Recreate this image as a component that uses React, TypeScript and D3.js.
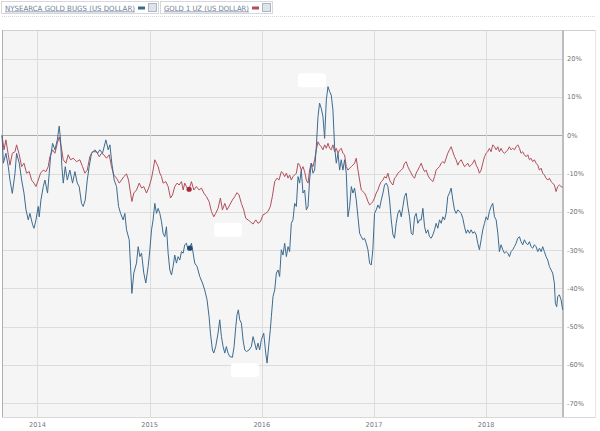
import * as d3 from "d3";

// weekly-ish readings, % change since start (decimal years)
const goldBugsDates = [
  2013.684, 2013.696, 2013.719, 2013.740, 2013.755, 2013.776, 2013.800, 2013.814, 2013.838, 2013.859,
  2013.880, 2013.898, 2013.918, 2013.933, 2013.957, 2013.969, 2013.987, 2014.007, 2014.016, 2014.031,
  2014.052, 2014.067, 2014.090, 2014.105, 2014.117, 2014.135, 2014.156, 2014.177, 2014.194, 2014.206,
  2014.218, 2014.230, 2014.248, 2014.266, 2014.289, 2014.313, 2014.334, 2014.355, 2014.372, 2014.393,
  2014.408, 2014.426, 2014.444, 2014.461, 2014.482, 2014.512, 2014.536, 2014.556, 2014.580, 2014.610,
  2014.631, 2014.646, 2014.663, 2014.684, 2014.705, 2014.723, 2014.741, 2014.764, 2014.779, 2014.794,
  2014.818, 2014.830, 2014.842, 2014.859, 2014.883, 2014.898, 2014.913, 2014.928, 2014.948, 2014.966,
  2014.987, 2015.002, 2015.017, 2015.031, 2015.046, 2015.061, 2015.076, 2015.091, 2015.106, 2015.120,
  2015.135, 2015.150, 2015.165, 2015.180, 2015.195, 2015.209, 2015.224, 2015.239, 2015.254, 2015.269,
  2015.284, 2015.299, 2015.313, 2015.328, 2015.343, 2015.358, 2015.373, 2015.388, 2015.402, 2015.423,
  2015.447, 2015.471, 2015.491, 2015.512, 2015.530, 2015.542, 2015.560, 2015.572, 2015.589, 2015.610,
  2015.625, 2015.640, 2015.655, 2015.670, 2015.684, 2015.699, 2015.714, 2015.738, 2015.753, 2015.768,
  2015.779, 2015.791, 2015.803, 2015.818, 2015.833, 2015.848, 2015.863, 2015.886, 2015.907, 2015.922,
  2015.937, 2015.952, 2015.966, 2015.981, 2015.996, 2016.017, 2016.035, 2016.047, 2016.064, 2016.076,
  2016.085, 2016.100, 2016.115, 2016.130, 2016.145, 2016.159, 2016.174, 2016.189, 2016.204, 2016.219,
  2016.234, 2016.248, 2016.263, 2016.278, 2016.293, 2016.308, 2016.323, 2016.337, 2016.352, 2016.367,
  2016.382, 2016.397, 2016.412, 2016.426, 2016.441, 2016.456, 2016.471, 2016.486, 2016.501, 2016.515,
  2016.530, 2016.545, 2016.560, 2016.575, 2016.590, 2016.605, 2016.619, 2016.634, 2016.649, 2016.664,
  2016.679, 2016.694, 2016.708, 2016.723, 2016.738, 2016.753, 2016.768, 2016.783, 2016.798, 2016.812,
  2016.827, 2016.842, 2016.857, 2016.872, 2016.887, 2016.901, 2016.916, 2016.931, 2016.946, 2016.961,
  2016.976, 2016.990, 2017.005, 2017.020, 2017.035, 2017.050, 2017.065, 2017.080, 2017.094, 2017.109,
  2017.124, 2017.139, 2017.154, 2017.169, 2017.183, 2017.198, 2017.213, 2017.228, 2017.243, 2017.258,
  2017.272, 2017.287, 2017.302, 2017.317, 2017.332, 2017.347, 2017.362, 2017.376, 2017.391, 2017.406,
  2017.421, 2017.436, 2017.451, 2017.465, 2017.480, 2017.495, 2017.510, 2017.525, 2017.540, 2017.554,
  2017.569, 2017.584, 2017.599, 2017.614, 2017.629, 2017.643, 2017.658, 2017.673, 2017.688, 2017.703,
  2017.718, 2017.732, 2017.747, 2017.762, 2017.777, 2017.792, 2017.807, 2017.822, 2017.836, 2017.851,
  2017.866, 2017.881, 2017.896, 2017.911, 2017.925, 2017.940, 2017.955, 2017.970, 2017.985, 2018.000,
  2018.014, 2018.029, 2018.044, 2018.059, 2018.074, 2018.089, 2018.104, 2018.118, 2018.133, 2018.148,
  2018.163, 2018.178, 2018.193, 2018.207, 2018.222, 2018.237, 2018.252, 2018.267, 2018.282, 2018.297,
  2018.311, 2018.326, 2018.341, 2018.356, 2018.371, 2018.386, 2018.400, 2018.415, 2018.430, 2018.445,
  2018.460, 2018.475, 2018.490, 2018.504, 2018.519, 2018.534, 2018.549, 2018.564, 2018.579, 2018.593,
  2018.608, 2018.617, 2018.629, 2018.638, 2018.653, 2018.668, 2018.682,
];
const goldBugsChange = [
  0, -7.3, -4.7, -8.2, -11.7, -15.2, -9.9, -4.7, -7.3, -11.7,
  -15.1, -19.5, -22.1, -20.4, -23.4, -24.3, -22.1, -18.6, -21.3, -16.9,
  -13.4, -11.7, -15.1, -9.9, -5.6, -2.1, -3.8, -1.2, 2.4, -1.2,
  -8.2, -12.5, -8.2, -11.7, -9.1, -12.5, -9.5, -12.5, -13.4, -17.8,
  -18.6, -16.9, -11.7, -8.2, -4.7, -3.8, -4.7, -3.8, -4.7, -1.2,
  -3.8, -2.5, -7.3, -11.7, -13.4, -18.6, -20.4, -22.1, -20.4, -24.7,
  -27.3, -34.3, -41.3, -36.0, -33.4, -29.1, -31.7, -30.8, -36.0, -38.6,
  -34.3, -29.9, -24.7, -22.1, -17.8, -20.4, -19.1, -20.4, -22.6, -25.6,
  -26.5, -23.9, -30.8, -35.2, -36.5, -34.3, -31.3, -33.4, -31.7, -32.6,
  -30.4, -30.8, -28.6, -28.2, -29.9, -29.5, -28.2, -30.8, -33.4, -34.3,
  -36.9, -38.6, -40.4, -43.0, -47.4, -51.7, -56.1, -56.9, -55.2, -51.7,
  -48.2, -52.6, -55.2, -56.9, -55.2, -56.9, -57.8, -58.0, -55.2, -50.0,
  -46.9, -45.6, -48.2, -49.1, -53.5, -56.1, -56.5, -56.1, -55.2, -52.6,
  -54.3, -56.1, -54.3, -56.1, -53.4, -51.7, -56.9, -59.5, -54.3, -50.8,
  -47.4, -42.1, -40.4, -36.0, -35.2, -36.9, -29.9, -31.3, -28.2, -31.7,
  -29.1, -30.4, -23.0, -22.1, -17.8, -18.6, -10.8, -12.5, -9.1, -15.1,
  -14.3, -19.5, -18.6, -11.7, -7.3, -9.9, -9.1, -3.0, 4.9, 8.4,
  7.0, 4.9, -0.8, 9.2, 12.7, 11.4, 10.5, 6.6, -3.0, -7.3,
  -4.7, -9.1, -6.4, -9.1, -6.4, -9.9, -21.3, -18.6, -13.4, -15.1,
  -13.8, -16.9, -21.3, -25.6, -26.5, -27.3, -26.9, -28.2, -29.9, -33.4,
  -33.9, -29.9, -20.4, -19.5, -18.2, -19.1, -16.9, -15.1, -13.0, -12.5,
  -13.4, -16.9, -22.1, -26.0, -26.9, -23.0, -20.4, -19.5, -21.3, -18.6,
  -16.0, -15.1, -18.6, -21.3, -25.6, -26.0, -21.3, -20.4, -23.0, -22.1,
  -22.1, -19.1, -23.9, -25.6, -24.7, -26.5, -26.9, -26.0, -24.7, -23.0,
  -24.3, -22.1, -23.0, -21.3, -22.1, -20.4, -16.0, -15.1, -13.8, -16.9,
  -19.5, -20.4, -19.5, -19.9, -20.4, -21.7, -23.9, -25.6, -24.7, -25.6,
  -24.7, -25.6, -25.2, -26.0, -28.2, -29.9, -27.3, -24.7, -23.0, -21.3,
  -22.1, -19.9, -18.6, -17.8, -21.3, -22.1, -25.6, -30.4, -28.6, -29.9,
  -30.8, -30.4, -30.8, -31.7, -30.4, -29.9, -29.1, -28.2, -26.9, -26.5,
  -27.8, -28.6, -27.3, -28.2, -28.6, -27.8, -29.1, -29.5, -28.6, -29.1,
  -30.4, -29.5, -30.4, -29.1, -30.4, -31.7, -32.6, -34.3, -35.2, -36.0,
  -38.6, -43.9, -44.8, -42.1, -41.7, -43.0, -45.6,
];

const goldOzDates = [
  2013.684, 2013.702, 2013.719, 2013.740, 2013.755, 2013.776, 2013.800, 2013.814, 2013.838, 2013.859,
  2013.880, 2013.903, 2013.927, 2013.948, 2013.969, 2013.987, 2014.007, 2014.028, 2014.052, 2014.076,
  2014.096, 2014.111, 2014.135, 2014.156, 2014.177, 2014.194, 2014.212, 2014.230, 2014.254, 2014.274,
  2014.295, 2014.319, 2014.349, 2014.378, 2014.402, 2014.423, 2014.444, 2014.467, 2014.491, 2014.527,
  2014.551, 2014.571, 2014.592, 2014.616, 2014.640, 2014.660, 2014.681, 2014.705, 2014.729, 2014.749,
  2014.770, 2014.794, 2014.812, 2014.830, 2014.842, 2014.859, 2014.883, 2014.907, 2014.928, 2014.948,
  2014.972, 2014.996, 2015.017, 2015.031, 2015.046, 2015.061, 2015.076, 2015.091, 2015.106, 2015.120,
  2015.144, 2015.165, 2015.186, 2015.204, 2015.224, 2015.245, 2015.263, 2015.284, 2015.299, 2015.313,
  2015.334, 2015.352, 2015.373, 2015.394, 2015.417, 2015.441, 2015.462, 2015.483, 2015.506, 2015.530,
  2015.551, 2015.572, 2015.589, 2015.610, 2015.631, 2015.649, 2015.670, 2015.690, 2015.714, 2015.738,
  2015.759, 2015.779, 2015.797, 2015.818, 2015.839, 2015.857, 2015.878, 2015.898, 2015.922, 2015.946,
  2015.966, 2015.987, 2016.011, 2016.035, 2016.055, 2016.076, 2016.094, 2016.115, 2016.136, 2016.153,
  2016.174, 2016.189, 2016.204, 2016.219, 2016.234, 2016.248, 2016.263, 2016.278, 2016.308, 2016.323,
  2016.337, 2016.352, 2016.367, 2016.382, 2016.397, 2016.412, 2016.426, 2016.441, 2016.456, 2016.471,
  2016.486, 2016.501, 2016.515, 2016.530, 2016.545, 2016.560, 2016.575, 2016.590, 2016.605, 2016.619,
  2016.634, 2016.649, 2016.664, 2016.679, 2016.694, 2016.708, 2016.723, 2016.738, 2016.753, 2016.768,
  2016.783, 2016.798, 2016.812, 2016.827, 2016.842, 2016.857, 2016.872, 2016.887, 2016.901, 2016.916,
  2016.931, 2016.946, 2016.961, 2016.976, 2016.990, 2017.005, 2017.020, 2017.035, 2017.050, 2017.065,
  2017.080, 2017.094, 2017.109, 2017.124, 2017.139, 2017.154, 2017.169, 2017.183, 2017.198, 2017.213,
  2017.228, 2017.243, 2017.258, 2017.272, 2017.287, 2017.302, 2017.317, 2017.332, 2017.347, 2017.362,
  2017.376, 2017.391, 2017.406, 2017.421, 2017.436, 2017.451, 2017.465, 2017.480, 2017.495, 2017.510,
  2017.525, 2017.540, 2017.554, 2017.569, 2017.584, 2017.599, 2017.614, 2017.629, 2017.643, 2017.658,
  2017.673, 2017.688, 2017.703, 2017.718, 2017.732, 2017.747, 2017.762, 2017.777, 2017.792, 2017.807,
  2017.822, 2017.836, 2017.851, 2017.866, 2017.881, 2017.896, 2017.911, 2017.925, 2017.940, 2017.955,
  2017.970, 2017.985, 2018.000, 2018.014, 2018.029, 2018.044, 2018.059, 2018.074, 2018.089, 2018.104,
  2018.118, 2018.133, 2018.148, 2018.163, 2018.178, 2018.193, 2018.207, 2018.222, 2018.237, 2018.252,
  2018.267, 2018.282, 2018.297, 2018.311, 2018.326, 2018.341, 2018.356, 2018.371, 2018.386, 2018.400,
  2018.415, 2018.430, 2018.445, 2018.460, 2018.475, 2018.490, 2018.504, 2018.519, 2018.534, 2018.549,
  2018.564, 2018.579, 2018.593, 2018.608, 2018.623, 2018.638, 2018.653, 2018.668, 2018.682,
];
const goldOzChange = [
  0, -3.8, -1.2, -5.1, -7.8, -4.7, -4.3, -2.5, -5.1, -8.2,
  -7.3, -9.9, -9.5, -11.7, -12.5, -13.4, -11.7, -9.9, -9.1, -9.5,
  -8.2, -5.6, -3.8, -4.7, -2.1, -0.4, -3.0, -6.4, -7.3, -5.1,
  -6.4, -6.0, -6.9, -6.4, -8.2, -9.9, -9.1, -5.6, -4.3, -4.3,
  -5.6, -4.7, -5.1, -6.0, -5.1, -8.2, -10.4, -11.2, -12.5, -11.7,
  -10.8, -10.1, -11.7, -15.1, -17.3, -15.1, -14.3, -12.5, -13.8, -13.4,
  -15.1, -13.4, -11.2, -9.1, -6.4, -7.3, -8.2, -9.9, -10.8, -12.5,
  -12.1, -13.4, -16.4, -15.6, -13.4, -12.5, -13.0, -12.1, -14.3, -12.5,
  -13.8, -14.1, -12.1, -14.3, -13.4, -14.3, -13.8, -15.1, -16.0, -17.3,
  -19.9, -21.3, -20.4, -19.1, -16.4, -19.5, -17.8, -19.5, -18.2, -16.9,
  -16.0, -15.0, -15.6, -17.8, -19.5, -21.7, -22.1, -22.6, -23.2, -22.1,
  -23.0, -22.6, -20.8, -20.4, -19.9, -18.6, -16.0, -12.1, -11.2, -11.7,
  -9.5, -9.9, -10.8, -9.9, -11.2, -10.4, -11.7, -10.8, -9.9, -7.3,
  -7.8, -9.1, -8.2, -9.5, -11.7, -12.5, -9.1, -7.3, -8.2, -6.4,
  -3.8, -1.7, -2.5, -3.0, -3.8, -2.5, -3.4, -2.1, -3.4, -3.8,
  -2.5, -4.3, -3.4, -4.7, -3.8, -3.4, -4.7, -5.1, -8.2, -9.1,
  -8.6, -8.2, -7.8, -7.3, -6.0, -9.1, -11.7, -14.3, -14.7, -15.1,
  -16.0, -17.3, -18.2, -17.8, -17.3, -16.4, -15.1, -14.3, -13.0, -12.1,
  -11.7, -10.8, -11.2, -9.9, -11.7, -12.5, -13.0, -11.2, -10.8, -9.9,
  -9.5, -9.1, -8.6, -7.3, -6.9, -8.2, -9.1, -9.9, -10.8, -11.2,
  -9.9, -9.1, -8.2, -7.3, -8.6, -9.5, -9.1, -10.4, -11.2, -11.7,
  -12.1, -10.8, -9.1, -8.6, -8.2, -7.3, -6.9, -7.3, -6.0, -4.7,
  -3.8, -3.0, -4.3, -5.6, -6.4, -7.8, -6.9, -6.4, -7.3, -8.2,
  -7.8, -7.3, -8.2, -7.8, -7.3, -6.4, -7.8, -8.6, -9.9, -9.1,
  -7.3, -5.6, -4.7, -4.3, -3.4, -4.3, -2.5, -3.0, -3.8, -3.0,
  -4.3, -3.4, -4.3, -4.7, -4.3, -3.8, -3.0, -3.8, -3.4, -3.8,
  -3.0, -2.5, -3.4, -4.7, -4.3, -5.1, -5.6, -5.1, -6.4, -6.0,
  -6.9, -6.4, -7.3, -7.8, -9.1, -8.6, -9.9, -10.4, -11.2, -11.7,
  -11.2, -12.1, -12.5, -13.0, -14.7, -13.4, -13.0, -13.4, -13.6,
];

const yearTicks = [2014, 2015, 2016, 2017, 2018];
const pctTicks = [20, 10, 0, -10, -20, -30, -40, -50, -60, -70];

const legendLabels = ["NYSEARCA GOLD BUGS (US DOLLAR)", "GOLD 1 UZ (US DOLLAR)"];

// hover markers left on the chart
const markerDate = [2015.352, 2015.358];
const markerValue = [-14.1, -29.5];

// blanked-out floating labels
const blankDates = [2016.447, 2015.699, 2015.850];
const blankValues = [14.4, -24.7, -61.3];

const BLUE = "#3d6b8f";
const RED = "#b0505c";

export default function App() {
  const W = 600;
  const H = 431;
  const plot = { left: 2, right: 563, top: 30, bottom: 417 };

  const x = d3.scaleLinear().domain([2013.684, 2018.685]).range([plot.left, plot.right]);
  const y = d3.scaleLinear().domain([27.5, -73.6]).range([plot.top, plot.bottom]);

  const line = d3.line<[number, number]>()
    .x(d => x(d[0]))
    .y(d => y(d[1]));

  const bugs = goldBugsDates.map((d, i) => [d, goldBugsChange[i]] as [number, number]);
  const gold = goldOzDates.map((d, i) => [d, goldOzChange[i]] as [number, number]);

  const font = "'DejaVu Sans', Verdana, sans-serif";

  return (
    <div style={{ position: "fixed", left: 0, top: 0, width: W, height: H, background: "#fff" }}>
      <svg width={W} height={H} style={{ display: "block" }}>
        {/* legend */}
        <g fontFamily={font} fontSize={7.2} fill="#6f7f99">
          <rect x={1.5} y={1.5} width={157} height={12} fill="#fff" stroke="#d4d8de" />
          <text x={5} y={10.5} textLength={130} lengthAdjust="spacingAndGlyphs" textDecoration="underline">{legendLabels[0]}</text>
          <rect x={138} y={6.5} width={7} height={3} fill={BLUE} />
          <rect x={148.5} y={3.5} width={8} height={8} fill="#dfe4ea" stroke="#aab4c2" />
          <rect x={160.5} y={1.5} width={112} height={12} fill="#fff" stroke="#d4d8de" />
          <text x={164} y={10.5} textLength={85} lengthAdjust="spacingAndGlyphs" textDecoration="underline">{legendLabels[1]}</text>
          <rect x={252} y={6.5} width={7} height={3} fill={RED} />
          <rect x={262.5} y={3.5} width={8} height={8} fill="#dfe4ea" stroke="#aab4c2" />
        </g>
        <line x1={2} x2={596} y1={16.5} y2={16.5} stroke="#d6d6d6" strokeDasharray="1,1" />

        {/* plot background */}
        <rect x={plot.left} y={plot.top} width={plot.right - plot.left} height={plot.bottom - plot.top} fill="#f5f5f5" />

        {/* grid */}
        {pctTicks.map(t => (
          <line key={"h" + t} x1={plot.left} x2={plot.right} y1={Math.round(y(t)) + 0.5} y2={Math.round(y(t)) + 0.5}
            stroke={t === 0 ? "#a8a8a8" : "#dcdcdc"} strokeWidth={1} />
        ))}
        {yearTicks.map(t => (
          <line key={"v" + t} x1={Math.round(x(t)) + 0.5} x2={Math.round(x(t)) + 0.5} y1={plot.top} y2={plot.bottom}
            stroke="#dcdcdc" />
        ))}

        {/* frame */}
        <line x1={plot.left} x2={596} y1={plot.top + 0.5} y2={plot.top + 0.5} stroke="#d0d0d0" />
        <line x1={plot.left} x2={596} y1={plot.bottom + 0.5} y2={plot.bottom + 0.5} stroke="#d8d8d8" />
        <line x1={plot.left + 0.5} x2={plot.left + 0.5} y1={plot.top} y2={plot.bottom} stroke="#b0b0b0" />
        <line x1={plot.right} x2={plot.right} y1={plot.top} y2={plot.bottom} stroke="#bdbdbd" strokeWidth={2} />
        <line x1={595.5} x2={595.5} y1={plot.top} y2={plot.bottom} stroke="#e6e6e6" />

        {/* series */}
        <path d={line(gold) ?? ""} fill="none" stroke={RED} strokeWidth={1} strokeLinejoin="round" />
        <path d={line(bugs) ?? ""} fill="none" stroke={BLUE} strokeWidth={1} strokeLinejoin="round" />

        <circle cx={x(markerDate[0])} cy={y(markerValue[0])} r={2.6} fill="#a8263a" />
        <circle cx={x(markerDate[1])} cy={y(markerValue[1])} r={2.6} fill="#1f4a73" />

        {blankDates.map((d, i) => (
          <rect key={"b" + i} x={x(d) - 14} y={y(blankValues[i]) - 7} width={28} height={14} rx={3}
            fill="#ffffff" opacity={0.95} />
        ))}

        {/* right axis labels */}
        <g fontFamily={font} fontSize={6.6} fill="#777">
          {pctTicks.map(t => (
            <text key={"l" + t} x={567} y={y(t) + 2.5}>{t + "%"}</text>
          ))}
        </g>

        {/* year labels */}
        <g fontFamily={font} fontSize={6.6} fill="#777" textAnchor="middle">
          {yearTicks.map(t => (
            <text key={"y" + t} x={x(t)} y={427}>{t}</text>
          ))}
        </g>
      </svg>
    </div>
  );
}
